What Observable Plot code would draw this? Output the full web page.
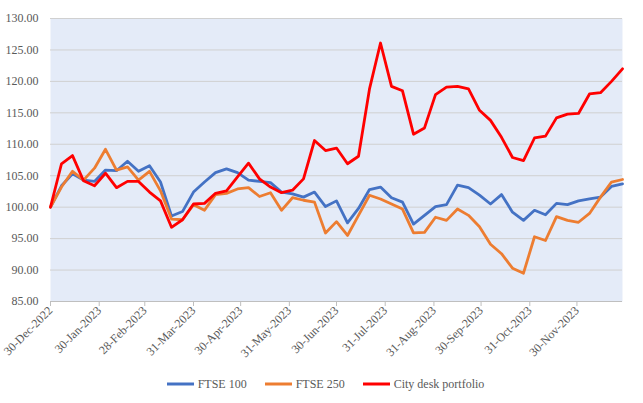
<!DOCTYPE html>
<html>
<head>
<meta charset="utf-8">
<script src="https://cdn.jsdelivr.net/npm/d3@7"></script>
<script src="https://cdn.jsdelivr.net/npm/@observablehq/plot@0.6"></script>
<style>
  body { margin: 0; background: #fff; }
  #chart { width: 643px; }
  #chart svg, #chart svg text { font-family: "Liberation Serif", "Times New Roman", serif !important; }
  .legend { display: flex; justify-content: center; align-items: center; gap: 18px;
            font-family: "Liberation Serif", "Times New Roman", serif; font-size: 12px; color: #595959;
            height: 38px; width: 643px; padding-left: 8px; box-sizing: border-box; }
  .legend .item { display: flex; align-items: center; gap: 4px; }
  .legend svg { display: block; }
</style>
</head>
<body>
<div id="chart"></div>
<script>
// Weekly observations, Fridays from 30-Dec-2022 to 29-Dec-2023 (index = 100 at start)
const startDate = "2022-12-30";
const weekCount = 53;

const ftse100 = [100.0, 103.4, 105.3, 104.3, 104.1, 105.9, 105.8, 107.3, 105.7, 106.6,
  104.0, 98.6, 99.3, 102.4, 104.0, 105.5, 106.1, 105.5, 104.3, 104.1,
  103.9, 102.4, 102.1, 101.6, 102.4, 100.1, 101.0, 97.5, 99.8, 102.8,
  103.2, 101.5, 100.8, 97.3, 98.7, 100.1, 100.4, 103.5, 103.1, 101.9,
  100.5, 102.0, 99.2, 97.9, 99.5, 98.8, 100.6, 100.4, 101.0, 101.3,
  101.6, 103.3, 103.7];

const ftse250 = [100.0, 103.2, 105.7, 104.3, 106.2, 109.2, 105.9, 106.4, 104.3, 105.7,
  102.6, 98.1, 98.0, 100.4, 99.5, 102.0, 102.2, 102.9, 103.1, 101.7,
  102.3, 99.5, 101.5, 101.1, 100.8, 95.9, 97.7, 95.5, 98.7, 101.9,
  101.3, 100.5, 99.7, 95.9, 96.0, 98.4, 97.9, 99.7, 98.7, 96.9,
  94.1, 92.6, 90.3, 89.5, 95.3, 94.7, 98.5, 97.9, 97.6, 99.0,
  101.6, 104.0, 104.4];

const cityDesk = [100.0, 106.9, 108.2, 104.2, 103.4, 105.4, 103.1, 104.1, 104.1, 102.4,
  101.0, 96.8, 98.0, 100.5, 100.6, 102.2, 102.6, 104.8, 107.0, 104.5,
  103.2, 102.3, 102.7, 104.5, 110.6, 109.0, 109.4, 106.9, 108.1, 118.8,
  126.1, 119.2, 118.5, 111.6, 112.6, 117.9, 119.1, 119.2, 118.8, 115.4,
  113.8, 111.1, 107.9, 107.4, 111.0, 111.3, 114.2, 114.8, 114.9, 118.0,
  118.2, 120.0, 122.0];

const seriesNames = ["FTSE 100", "FTSE 250", "City desk portfolio"];
const seriesColors = ["#4472C4", "#ED7D31", "#FF0000"];

const tickDates = ["2022-12-30", "2023-01-30", "2023-02-28", "2023-03-31", "2023-04-30",
  "2023-05-31", "2023-06-30", "2023-07-31", "2023-08-31", "2023-09-30",
  "2023-10-31", "2023-11-30"];
const yTicks = [85, 90, 95, 100, 105, 110, 115, 120, 125, 130];

const start = new Date(startDate);
const dates = d3.range(weekCount).map(i => d3.utcDay.offset(start, 7 * i));
const allSeries = [ftse100, ftse250, cityDesk];
const rows = allSeries.flatMap((vals, s) =>
  vals.map((v, i) => ({ date: dates[i], value: v, series: seriesNames[s] })));

const chart = Plot.plot({
  width: 643,
  height: 365,
  marginLeft: 50,
  marginRight: 21,
  marginTop: 18,
  marginBottom: 64,
  style: { fontFamily: "'Liberation Serif', 'Times New Roman', serif", fontSize: "12px", color: "#595959", background: "#fff" },
  x: { type: "utc", domain: [dates[0], dates[dates.length - 1]] },
  y: { domain: [85, 130] },
  color: { domain: seriesNames, range: seriesColors },
  marks: [
    Plot.frame({ fill: "url(#dots)", stroke: "none" }),
    Plot.gridY(yTicks, { stroke: "#d0d0d0", strokeOpacity: 1, strokeWidth: 1 }),
    Plot.ruleY([85], { stroke: "#bfbfbf", strokeWidth: 1 }),
    Plot.axisY(yTicks, { tickFormat: d3.format(".2f"), tickSize: 0, tickPadding: 12, label: null, fill: "#595959", fontSize: 12 }),
    Plot.axisX(tickDates.map(d => new Date(d)), {
      tickFormat: d3.utcFormat("%d-%b-%Y"), tickRotate: -45, tickSize: 5, tickPadding: 2,
      stroke: "#bfbfbf", fill: "#595959", label: null, fontSize: 12
    }),
    Plot.line(rows, { x: "date", y: "value", z: "series", stroke: "series", strokeWidth: 2.8,
      strokeLinejoin: "round", strokeLinecap: "round" })
  ]
});

// inject the dotted fill pattern used by the plot area
const defs = d3.select(chart).insert("defs", ":first-child");
const pat = defs.append("pattern").attr("id", "dots").attr("width", 2).attr("height", 2)
  .attr("patternUnits", "userSpaceOnUse");
pat.append("rect").attr("width", 2).attr("height", 2).attr("fill", "#ffffff");
pat.append("rect").attr("width", 1).attr("height", 1).attr("fill", "#94aee2");

document.getElementById("chart").appendChild(chart);

// legend below
const legend = d3.select("body").append("div").attr("class", "legend");
seriesNames.forEach((name, i) => {
  const item = legend.append("div").attr("class", "item");
  const sw = item.append("svg").attr("width", 27).attr("height", 6);
  sw.append("line").attr("x1", 0).attr("x2", 27).attr("y1", 3).attr("y2", 3)
    .attr("stroke", seriesColors[i]).attr("stroke-width", 3);
  item.append("span").text(name);
});
</script>
</body>
</html>
